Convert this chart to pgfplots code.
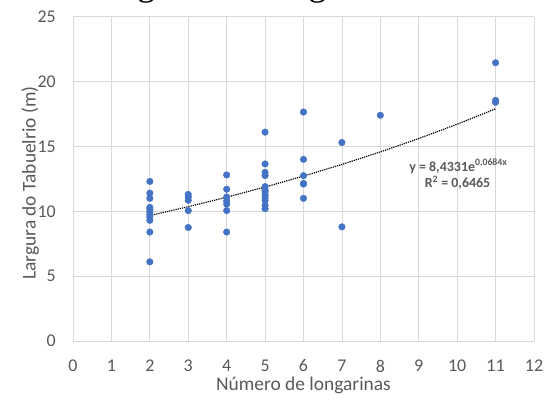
\documentclass[border=0pt]{standalone}
\usepackage{fontspec}
\setmainfont{Carlito}
\newfontfamily\titlefont{Liberation Serif}
\usepackage{pgfplots}
\pgfplotsset{compat=1.18}
\definecolor{pt}{HTML}{4472C4}
\definecolor{txt}{HTML}{595959}
\definecolor{grd}{HTML}{D9D9D9}
\begin{document}
\begin{tikzpicture}
\path[use as bounding box, clip] (0bp,0bp) rectangle (551bp,403bp);
\node[anchor=base west, inner sep=0, font=\titlefont\fontsize{36}{36}\selectfont] at (88bp,407.3bp) {Largura vs Longarinas};
\begin{axis}[
  at={(73bp,62bp)}, anchor=south west, scale only axis,
  width=461bp, height=324.3bp,
  xmin=0, xmax=12, ymin=0, ymax=25,
  xtick={0,...,12}, ytick={0,5,...,25},
  grid=major, major grid style={grd, line width=0.75bp},
  axis line style={draw=none}, major tick length=0pt, tick style={draw=none},
  ticklabel style={font=\fontsize{18}{18}\selectfont, text=txt, inner sep=0pt},
  /pgf/number format/assume math mode=true,
  xticklabel style={anchor=center, yshift=-25bp},
  yticklabel style={anchor=east, xshift=-17bp},
  xlabel={Número de longarinas},
  ylabel={Largura do Tabuelrio (m)},
  label style={font=\fontsize{19.5}{19.5}\selectfont, text=txt},
  xlabel style={at={(axis description cs:0.5,-0.136)}, anchor=center},
  ylabel style={at={(axis description cs:-0.093,0.487)}, anchor=center},
  clip=false]
\addplot[only marks, mark=*, mark size=3.3bp, mark options={draw=pt, fill=pt}] coordinates {
 (2,12.3) (2,11.4) (2,11.0) (2,10.3) (2,10.15) (2,9.95) (2,9.75) (2,9.55) (2,9.3) (2,8.4) (2,6.1)
 (3,11.3) (3,11.1) (3,10.85) (3,10.05) (3,8.75)
 (4,12.8) (4,11.7) (4,11.1) (4,10.8) (4,10.55) (4,10.05) (4,8.4)
 (5,16.1) (5,13.65) (5,13.0) (5,12.75) (5,11.9) (5,11.65) (5,11.5) (5,11.25) (5,11.05) (5,10.85) (5,10.45) (5,10.2)
 (6,17.65) (6,14.0) (6,12.75) (6,12.15) (6,12.1) (6,11.0)
 (7,15.3) (7,8.8)
 (8,17.4)
 (11,21.45) (11,18.55) (11,18.4)
};
\addplot[black, line width=1.2bp, dash pattern=on 1.2bp off 1bp] coordinates {
 (2,9.6694) (3,10.3539) (4,11.0867) (5,11.8717) (6,12.7123) (7,13.6122) (8,14.5759) (9,15.6078) (10,16.7126) (11,17.8958)
};
\node[font=\bfseries\fontsize{14}{14}\selectfont, text=txt] at (axis cs:10.03,13.47) {y = 8,4331e\textsuperscript{0,0684x}};
\node[font=\bfseries\fontsize{14}{14}\selectfont, text=txt] at (axis cs:10.01,12.23) {R\textsuperscript{2} = 0,6465};
\end{axis}
\end{tikzpicture}
\end{document}
